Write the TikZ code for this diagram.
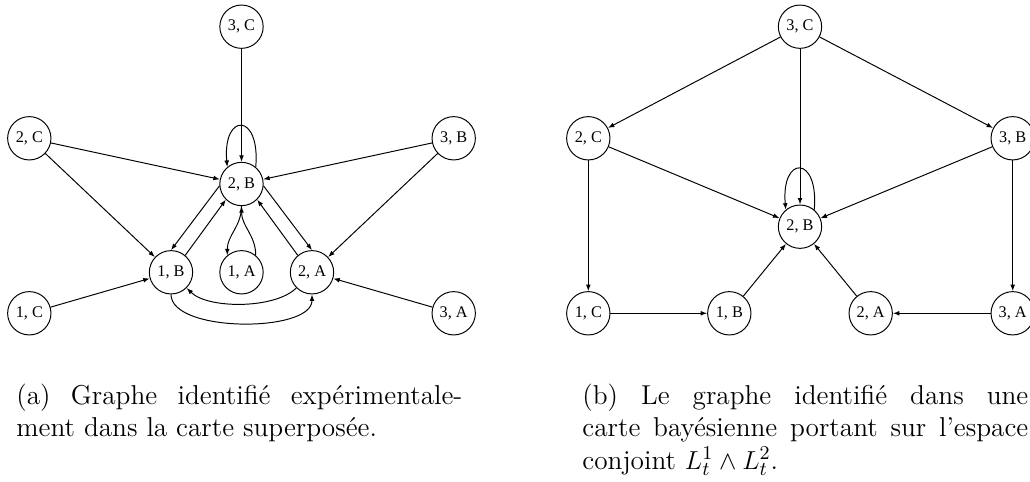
\documentclass[tikz,border=0pt]{standalone}
\usepackage{fontspec}
\newfontfamily\nodefont{Liberation Serif}
\usetikzlibrary{arrows.meta}
\begin{document}
\begin{tikzpicture}[x=0.4615pt, y=0.4615pt,
  st/.style={circle, draw, line width=0.45pt, minimum size=20pt, inner sep=0pt,
    font=\nodefont\fontsize{7.5}{9}\selectfont},
  arr/.style={line width=0.45pt, -{Latex[length=3pt,width=2.2pt]}},
  captext/.style={anchor=north west, inner sep=0pt, text width=205.8pt, align=justify,
    font=\fontsize{12.6}{15}\selectfont}]
\useasboundingbox (0,0) rectangle (1030,482);
\clip (0,0) rectangle (1030,482);
% ---------- left graph ----------
\node[st] (L3C) at (241.5,455.3) {3, C};
\node[st] (L2C) at (29.3,343.7) {2, C};
\node[st] (L3B) at (453.7,343.7) {3, B};
\node[st] (L2B) at (241.5,298) {2, B};
\node[st] (L1B) at (171,209.7) {1, B};
\node[st] (L1A) at (241.5,209.7) {1, A};
\node[st] (L2A) at (312,209.7) {2, A};
\node[st] (L1C) at (29.3,168.7) {1, C};
\node[st] (L3A) at (453.7,168.7) {3, A};
\draw[arr] (L3C) -- (L2B);
\draw[arr] (L2B.50) .. controls +(85:55) and +(95:55) .. (L2B.130);
\draw[arr] (L2C) -- (L2B);
\draw[arr] (L3B) -- (L2B);
\draw[arr] (L2C) -- (L1B);
\draw[arr] (L3B) -- (L2A);
\draw[arr] (L1C) -- (L1B);
\draw[arr] (L3A) -- (L2A);
\draw[arr] (L2B.185) -- (L1B.90);
\draw[arr] (L1B.50) -- (L2B.225);
\draw[arr] (L2B.-5) -- (L2A.90);
\draw[arr] (L2A.130) -- (L2B.-45);
\draw[arr] (L1A.50) to[out=90,in=-90] (L2B.south);
\draw[arr] (L2B.south) to[out=-90,in=90] (L1A.130);
\draw[arr] (L2A.-135) to[out=-135,in=-45,looseness=0.7] (L1B.-45);
\draw[arr] (L1B.-90) to[out=-90,in=-90,looseness=0.7] (L2A.-90);
% ---------- right graph ----------
\node[st] (R3C) at (800,455.3) {3, C};
\node[st] (R2C) at (588.3,343.7) {2, C};
\node[st] (R3B) at (1012.7,343.7) {3, B};
\node[st] (R2B) at (800,255.3) {2, B};
\node[st] (R1C) at (588.3,168.7) {1, C};
\node[st] (R1B) at (729.3,168.7) {1, B};
\node[st] (R2A) at (870.7,168.7) {2, A};
\node[st] (R3A) at (1012.7,168.7) {3, A};
\draw[arr] (R3C) -- (R2C);
\draw[arr] (R3C) -- (R3B);
\draw[arr] (R3C) -- (R2B);
\draw[arr] (R2B.50) .. controls +(85:55) and +(95:55) .. (R2B.130);
\draw[arr] (R2C) -- (R2B);
\draw[arr] (R3B) -- (R2B);
\draw[arr] (R2C) -- (R1C);
\draw[arr] (R3B) -- (R3A);
\draw[arr] (R1C) -- (R1B);
\draw[arr] (R3A) -- (R2A);
\draw[arr] (R1B) -- (R2B);
\draw[arr] (R2A) -- (R2B);
% ---------- captions ----------
\node[captext] (capa) at (16,98.5) {(a) Graphe identifié expérimentale-\linebreak ment dans la carte superposée.};
\node[captext] (capb) at (582,98.5) {(b) Le graphe identifié dans une\linebreak carte bayésienne portant sur l'espace\linebreak conjoint $L_t^1 \wedge L_t^2$.};
\end{tikzpicture}
\end{document}
